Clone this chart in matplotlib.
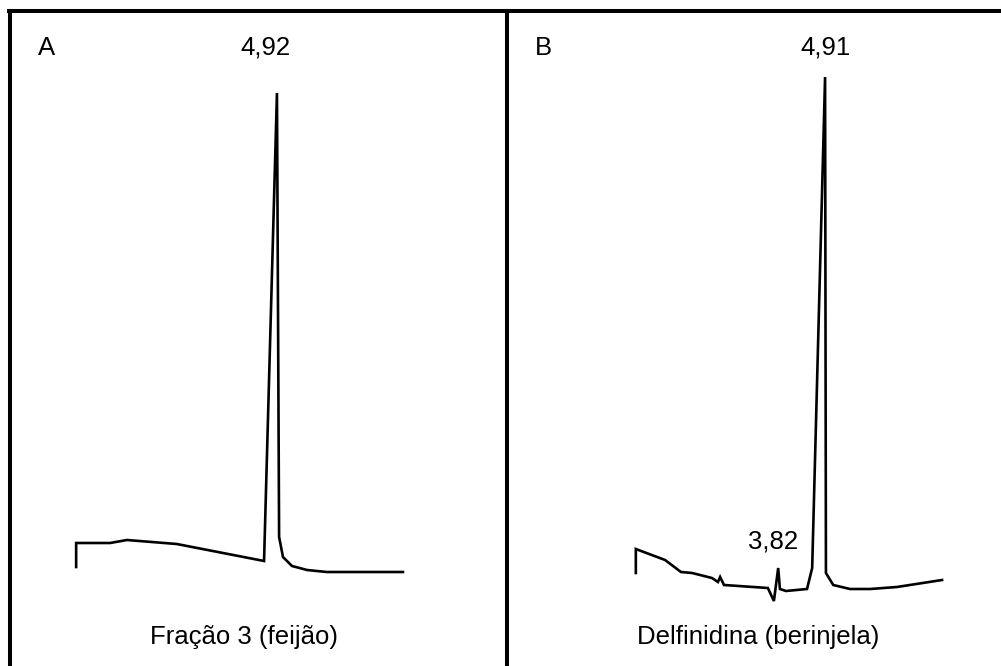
import matplotlib
matplotlib.use("Agg")
import matplotlib.pyplot as plt
from matplotlib import font_manager

# ---- data (retention time in min, detector signal in arbitrary units) ----
time_a = [0.25, 0.25, 1.04, 1.43, 2.59, 4.62, 4.92, 4.97, 5.06, 5.27, 5.62, 6.08, 7.85]
signal_a = [33, 57, 57, 60, 56, 39, 507, 63, 43, 34, 30, 28, 28]

time_b = [0.51, 0.51, 1.19, 1.56, 1.82, 2.28, 2.42, 2.47, 2.56, 3.58, 3.72, 3.82,
          3.86, 4.00, 4.49, 4.61, 4.91, 4.93, 5.10, 5.49, 5.96, 6.58, 7.63]
signal_b = [27, 51, 40, 28, 27, 22, 18, 23, 15, 12, -1, 32,
            11, 9, 11, 32, 523, 27, 15, 11, 11, 13, 20]

peaks_a = [(4.92, "4,92")]
peaks_b = [(4.91, "4,91"), (3.82, "3,82")]
panel_letters = ["A", "B"]
panel_titles = ["Fração 3 (feijão)", "Delfinidina (berinjela)"]

names = {f.name for f in font_manager.fontManager.ttflist}
fam = ["Liberation Sans Narrow"] if "Liberation Sans Narrow" in names else ["Liberation Sans"]
plt.rcParams["font.family"] = fam + ["DejaVu Sans"]

W, H = 1001, 666
fig = plt.figure(figsize=(W / 100, H / 100), dpi=100)

def make_ax(left_px, right_px, xl, xr):
    ax = fig.add_axes([left_px / W, 0, (right_px - left_px) / W, (H - 11) / H])
    ax.set_xlim(xl, xr)
    ax.set_ylim(-66, 589)
    for s in ["right", "bottom"]:
        ax.spines[s].set_visible(False)
    for s in ["left", "top"]:
        ax.spines[s].set_linewidth(2.9)
        ax.spines[s].set_color("black")
    ax.set_xticks([])
    ax.set_yticks([])
    ax.patch.set_alpha(0)
    return ax

ax_a = make_ax(9.5, 507, -1.30, 10.27)
ax_b = make_ax(507, 1001, -2.485, 9.00)

fs = 18.5
lw = 1.9

ax_a.plot(time_a, signal_a, color="black", lw=lw, solid_joinstyle="miter")
ax_b.plot(time_b, signal_b, color="black", lw=lw, solid_joinstyle="miter")

# peak labels
ax_a.text(peaks_a[0][0] - 0.26, 552, peaks_a[0][1], ha="center", va="center", fontsize=fs)
ax_b.text(peaks_b[0][0] + 0.02, 552, peaks_b[0][1], ha="center", va="center", fontsize=fs)
ax_b.text(peaks_b[1][0] - 0.12, 58, peaks_b[1][1], ha="center", va="center", fontsize=fs)

# panel letters
ax_a.text(-0.45, 552, panel_letters[0], ha="center", va="center", fontsize=fs)
ax_b.text(-1.64, 552, panel_letters[1], ha="center", va="center", fontsize=fs)

# panel titles
ax_a.text(-1.30 + (244 - 9.5) / 43, -37, panel_titles[0], ha="center", va="center", fontsize=fs)
ax_b.text(-2.485 + (758 - 507) / 43, -37, panel_titles[1], ha="center", va="center", fontsize=fs)

fig.savefig("out.png", dpi=100, facecolor="white")
